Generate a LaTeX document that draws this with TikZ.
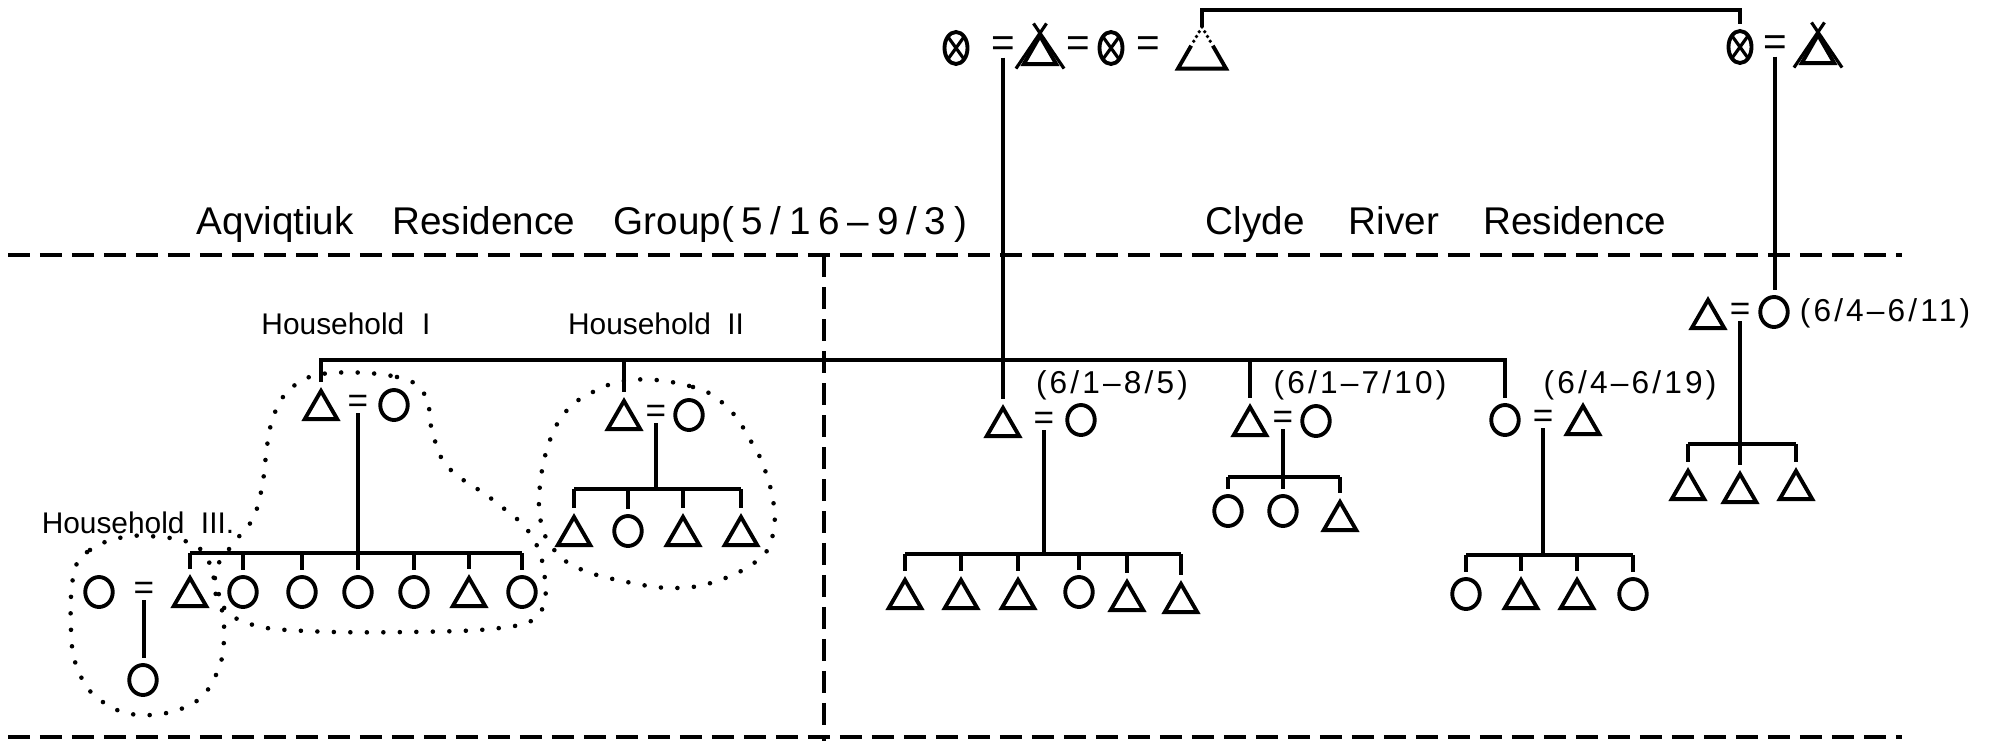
\documentclass[tikz,border=0pt]{standalone}
\usepackage{fontspec}
\setmainfont{Liberation Sans}
\newfontfamily\datefont[LetterSpace=10]{Liberation Sans}
\newfontfamily\headdatefont[LetterSpace=20]{Liberation Sans}
\usetikzlibrary{shapes.geometric,calc}

\tikzset{
  kin/.style={draw,line width=1.1pt,inner sep=0pt},
  male/.style={kin,regular polygon,regular polygon sides=3,minimum size=3.75mm,yshift=-0.47mm,outer sep=0.45mm},
  female/.style={kin,ellipse,minimum width=2.75mm,minimum height=3.0mm,outer sep=0.75mm},
  deadf/.style={female,minimum width=2.3mm,minimum height=3.2mm,
    path picture={\draw[line width=0.9pt] (path picture bounding box.north west) -- (path picture bounding box.south east)
      (path picture bounding box.north east) -- (path picture bounding box.south west);}},
  wed/.style={inner sep=0pt,font=\fontsize{10}{10}\selectfont},
  topwed/.style={wed,font=\fontsize{11.5}{11.5}\selectfont},
  line/.style={line width=0.95pt},
  divider/.style={line width=1.2pt,dash pattern=on 2.2mm off 1mm},
  ring/.style={line width=1.3pt,line cap=round,dash pattern=on 0pt off 1.65mm},
  head/.style={anchor=base,inner sep=0pt,font=\fontsize{11}{12}\selectfont},
  hhlabel/.style={anchor=base,inner sep=0pt,font=\fontsize{8.5}{10}\selectfont},
  dates/.style={anchor=base,inner sep=0pt,font=\datefont\fontsize{9}{10}\selectfont},
}

\begin{document}
\begin{tikzpicture}[x=0.1mm,y=-0.1mm]
\useasboundingbox (0,0) rectangle (1992,741);

% residence groups
\node[head] (aqv) at (582,234) {Aqviqtiuk\hspace{1em}Residence\hspace{1em}Group{\headdatefont(5/16–9/3)}};
\node[head] (clyde) at (1436,234) {Clyde\hspace{1.15em}River\hspace{1.15em}Residence};
\coordinate (divL) at (8,255);
\coordinate (divR) at (1902,255);
\coordinate (botL) at (8,737);
\coordinate (botR) at (1902,737);
\coordinate (divT) at (824,255);
\coordinate (divB) at (824,741);
\draw[divider] (divL) -- (divR);
\draw[divider] (botL) -- (botR);
\draw[divider] (divT) -- (divB);

% senior generation
\node[deadf] (tF1) at (956,48) {};
\node[topwed] (tEq1) at (1003,47) {=};
\node[male] (tM1) at (1040,50) {};
\draw[line width=0.9pt] (tM1.corner 2) -- ([xshift=0.65mm,yshift=0.35mm]tM1.corner 1)
  (tM1.corner 3) -- ([xshift=-0.65mm,yshift=0.35mm]tM1.corner 1);
\node[topwed] (tEq2) at (1078,47) {=};
\node[deadf] (tF2) at (1111,48) {};
\node[topwed] (tEq3) at (1148,47) {=};
\node[male,draw=none] (tM2) at (1202,50) {};
\draw[line width=1.1pt] ($(tM2.corner 1)!0.45!(tM2.corner 2)$) -- (tM2.corner 2) -- (tM2.corner 3)
  -- ($(tM2.corner 1)!0.45!(tM2.corner 3)$);
\draw[line width=1.1pt,line cap=round,dash pattern=on 0pt off 0.55mm] (tM2.corner 1) -- ($(tM2.corner 1)!0.45!(tM2.corner 2)$)
  (tM2.corner 1) -- ($(tM2.corner 1)!0.45!(tM2.corner 3)$);

\node[deadf] (rF) at (1740,47) {};
\node[topwed] (rEq) at (1775,46) {=};
\node[male] (rM) at (1818,49) {};
\draw[line width=0.9pt] (rM.corner 2) -- ([xshift=0.65mm,yshift=0.35mm]rM.corner 1)
  (rM.corner 3) -- ([xshift=-0.65mm,yshift=0.35mm]rM.corner 1);

\coordinate (topbar) at (0,10);
\draw[line] (tM2.north) -- (tM2.north |- topbar) -- (rF.north |- topbar) -- (rF.north);

% Household I
\node[male] (hhIm) at (321,405) {};
\node[wed] (hhIeq) at (358,404) {=};
\node[female] (hhIf) at (394,405) {};
\node[hhlabel] (hhIlab) at (346,334) {Household\hspace{0.6em}I};

% Household II
\node[male] (hhIIm) at (624,415) {};
\node[wed] (hhIIeq) at (656,414) {=};
\node[female] (hhIIf) at (689,415) {};
\node[hhlabel] (hhIIlab) at (656,334) {Household\hspace{0.55em}II};
\node[male] (hhIIk1) at (574,531) {};
\node[female] (hhIIk2) at (628,531) {};
\node[male] (hhIIk3) at (683,531) {};
\node[male] (hhIIk4) at (741,531) {};

% Household III
\node[female] (hhIIIf) at (99,592) {};
\node[wed] (hhIIIeq) at (144,591) {=};
\node[male] (hhIIIm) at (190,592) {};
\node[female] (hhIIIk) at (143,680) {};
\node[hhlabel] (hhIIIlab) at (138,533) {Household\hspace{0.55em}III.};

% children of Household I
\node[female] (hhIk1) at (243,592) {};
\node[female] (hhIk2) at (302,592) {};
\node[female] (hhIk3) at (358,592) {};
\node[female] (hhIk4) at (414,592) {};
\node[male] (hhIk5) at (469,592) {};
\node[female] (hhIk6) at (522,592) {};

% Clyde River couples
\node[male] (aM) at (1003,422) {};
\node[wed] (aEq) at (1044,421) {=};
\node[female] (aF) at (1081,420) {};
\node[dates] (aDate) at (1112,393) {(6/1–8/5)};
\node[male] (aK1) at (905,594) {};
\node[male] (aK2) at (961,594) {};
\node[male] (aK3) at (1018,594) {};
\node[female] (aK4) at (1079,592) {};
\node[male] (aK5) at (1127,596) {};
\node[male] (aK6) at (1181,598) {};

\node[male] (bM) at (1250,421) {};
\node[wed] (bEq) at (1283,420) {=};
\node[female] (bF) at (1316,421) {};
\node[dates] (bDate) at (1360,393) {(6/1–7/10)};
\node[female] (bK1) at (1228,511) {};
\node[female] (bK2) at (1283,511) {};
\node[male] (bK3) at (1340,516) {};

\node[female] (cF) at (1505,420) {};
\node[wed] (cEq) at (1543,419) {=};
\node[male] (cM) at (1583,420) {};
\node[dates] (cDate) at (1630,393) {(6/4–6/19)};
\node[female] (cK1) at (1466,594) {};
\node[male] (cK2) at (1521,594) {};
\node[male] (cK3) at (1577,594) {};
\node[female] (cK4) at (1633,594) {};

\node[male] (rcM) at (1708,314) {};
\node[wed] (rcEq) at (1740,312) {=};
\node[female] (rcF) at (1774,312) {};
\node[dates] (rcDate) at (1885,321) {(6/4–6/11)};
\node[male] (rcK1) at (1688,485) {};
\node[male] (rcK2) at (1740,488) {};
\node[male] (rcK3) at (1796,485) {};

% descent lines
\draw[line] (tEq1.south) -- (tEq1.south |- aM.north);
\draw[line] (rEq.south) -- (rEq.south |- rcF.north);

\coordinate (sib) at (0,360);
\draw[line] (hhIm.north) -- (hhIm.north |- sib) -- (cF.north |- sib) -- (cF.north);
\draw[line] (hhIIm.north) -- (hhIIm.north |- sib);
\draw[line] (bM.north) -- (bM.north |- sib);

\coordinate (hhIkids) at (0,553);
\draw[line] (hhIeq.south) -- (hhIeq.south |- hhIkids);
\draw[line] (hhIIIm.north |- hhIkids) -- (hhIk6.north |- hhIkids);
\foreach \k in {hhIIIm,hhIk1,hhIk2,hhIk3,hhIk4,hhIk5,hhIk6}
  \draw[line] (\k.north) -- (\k.north |- hhIkids);

\draw[line] (hhIIIeq.south) -- (hhIIIeq.south |- hhIIIk.north);

\coordinate (hhIIkids) at (0,489);
\draw[line] (hhIIeq.south) -- (hhIIeq.south |- hhIIkids);
\draw[line] (hhIIk1.north |- hhIIkids) -- (hhIIk4.north |- hhIIkids);
\foreach \k in {hhIIk1,hhIIk2,hhIIk3,hhIIk4}
  \draw[line] (\k.north) -- (\k.north |- hhIIkids);

\coordinate (akids) at (0,554);
\draw[line] (aEq.south) -- (aEq.south |- akids);
\draw[line] (aK1.north |- akids) -- (aK6.north |- akids);
\foreach \k in {aK1,aK2,aK3,aK4,aK5,aK6}
  \draw[line] (\k.north) -- (\k.north |- akids);

\coordinate (bkids) at (0,477);
\draw[line] (bEq.south) -- (bEq.south |- bkids);
\draw[line] (bK1.north |- bkids) -- (bK3.north |- bkids);
\foreach \k in {bK1,bK2,bK3}
  \draw[line] (\k.north) -- (\k.north |- bkids);

\coordinate (ckids) at (0,555);
\draw[line] (cEq.south) -- (cEq.south |- ckids);
\draw[line] (cK1.north |- ckids) -- (cK4.north |- ckids);
\foreach \k in {cK1,cK2,cK3,cK4}
  \draw[line] (\k.north) -- (\k.north |- ckids);

\coordinate (rckids) at (0,444);
\draw[line] (rcEq.south) -- (rcEq.south |- rckids);
\draw[line] (rcK1.north |- rckids) -- (rcK3.north |- rckids);
\foreach \k in {rcK1,rcK2,rcK3}
  \draw[line] (\k.north) -- (\k.north |- rckids);

% household outlines
\draw[ring] plot[smooth cycle,tension=0.7] coordinates {(331,373) (397,377) (425,395) (432,430) (448,467)
  (493,500) (531,535) (545,580) (538,615) (500,628) (408,632) (306,631) (250,624) (222,605) (214,575)
  (232,545) (252,520) (262,487) (268,440) (276,410) (295,385)};
\draw[ring] plot[smooth cycle,tension=0.7] coordinates {(630,380) (693,387) (728,408) (752,443) (765,470)
  (774,507) (772,538) (758,560) (720,580) (677,588) (627,582) (578,568) (552,547) (540,517) (541,477)
  (550,440) (562,417) (582,398)};
\draw[ring] plot[smooth cycle,tension=0.7] coordinates {(74,573) (90,550) (124,537) (160,537) (190,543)
  (208,560) (220,600) (224,640) (215,677) (190,705) (140,715) (100,700) (78,670) (71,630)};
\end{tikzpicture}
\end{document}
